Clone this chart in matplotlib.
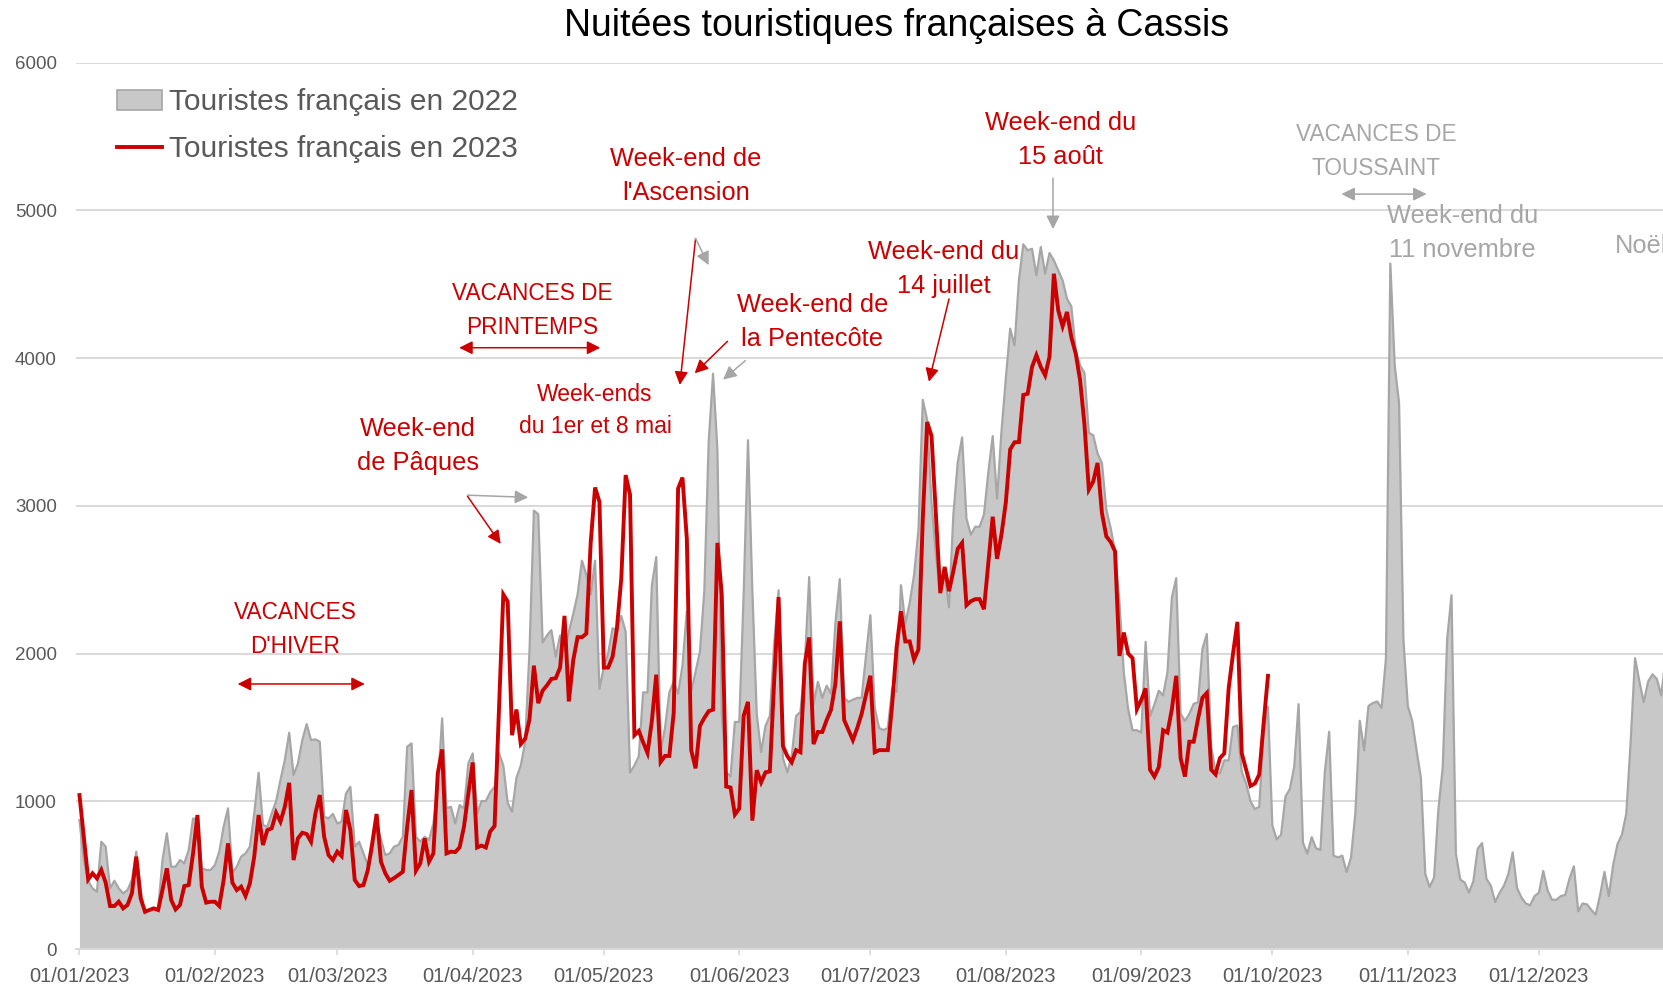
import numpy as np
import matplotlib
matplotlib.use("Agg")
import matplotlib.pyplot as plt
from matplotlib.patches import Patch
from matplotlib.lines import Line2D

plt.rcParams["font.family"] = ["Liberation Sans", "DejaVu Sans"]

# daily values, index 0 = 01/01/2023 (2022 aligned on the same weekday)
gray_2022 = [
    873, 602, 460, 410, 388, 726, 693, 410, 462, 410, 377, 399, 467, 659,
    399, 237, 264, 275, 264, 602, 783, 557, 557, 602, 580, 670, 884, 873,
    546, 535, 535, 568, 659, 828, 952, 512, 557, 625, 647, 693, 918, 1193,
    839, 828, 918, 1000, 1143, 1279, 1464, 1177, 1256, 1414, 1522, 1414, 1419, 1403,
    895, 884, 914, 850, 862, 1053, 1098, 693, 726, 647, 568, 647, 850, 740,
    636, 647, 693, 704, 760, 1369, 1392, 760, 726, 760, 738, 850, 1098, 1561,
    952, 963, 850, 974, 952, 1256, 1324, 916, 1001, 1001, 1061, 1097, 1327, 1242,
    989, 929, 1158, 1242, 1399, 2026, 2967, 2943, 2074, 2123, 2159, 1978, 2123, 2014,
    2147, 2267, 2400, 2629, 2533, 2400, 2629, 1761, 1905, 2002, 2171, 2159, 2255, 2147,
    1194, 1242, 1303, 1737, 1737, 2460, 2653, 1339, 1496, 1737, 1809, 1728, 1918, 2286,
    1741, 1877, 2014, 2422, 3431, 3894, 3377, 1591, 1196, 1169, 1537, 1537, 2395, 3444,
    2422, 1591, 1332, 1510, 1578, 2068, 2428, 1292, 1196, 1305, 1578, 1605, 1932, 2518,
    1659, 1809, 1700, 1782, 1728, 2204, 2504, 1700, 1673, 1687, 1700, 1700, 1986, 2259,
    1632, 1496, 1482, 1496, 1768, 1741, 2463, 2204, 2341, 2531, 2831, 3717, 3581, 3022,
    2668, 2422, 2531, 2313, 2941, 3295, 3463, 2913, 2804, 2858, 2858, 2941, 3227, 3472,
    3049, 3500, 3860, 4199, 4086, 4526, 4770, 4729, 4740, 4560, 4752, 4571, 4711, 4661,
    4594, 4526, 4402, 4350, 4050, 3950, 3900, 3494, 3478, 3353, 3290, 2975, 2849, 2692,
    2346, 1874, 1623, 1481, 1481, 1465, 2079, 1575, 1654, 1748, 1717, 1874, 2378, 2510,
    1591, 1544, 1591, 1660, 1670, 2032, 2132, 1371, 1198, 1189, 1277, 1277, 1503, 1513,
    1200, 1120, 1000, 947, 962, 1465, 1638, 836, 742, 774, 1032, 1082, 1232, 1657,
    720, 645, 757, 682, 670, 1195, 1470, 632, 620, 632, 520, 620, 920, 1545,
    1345, 1645, 1665, 1675, 1632, 1970, 4640, 3950, 3695, 2095, 1645, 1545, 1345, 1157,
    507, 420, 482, 945, 1232, 2095, 2395, 645, 470, 450, 382, 459, 679, 717,
    475, 428, 318, 380, 428, 506, 654, 412, 349, 308, 296, 358, 380, 528,
    396, 333, 333, 358, 365, 475, 560, 255, 308, 302, 264, 233, 365, 522,
    358, 569, 711, 774, 915, 1403, 1969, 1811, 1670, 1811, 1859, 1827, 1717, 1969,
    1850,
]

red_2023 = [
    1042, 757, 471, 512, 478, 535, 449, 291, 291, 320, 275, 298, 377, 625,
    343, 253, 264, 275, 264, 400, 546, 332, 268, 298, 426, 433, 647, 907,
    422, 314, 320, 320, 291, 467, 715, 449, 399, 422, 359, 444, 625, 907,
    704, 805, 817, 922, 862, 963, 1125, 602, 749, 787, 778, 726, 918, 1042,
    760, 636, 602, 659, 629, 941, 805, 467, 426, 433, 535, 715, 914, 591,
    512, 462, 480, 501, 523, 828, 1076, 530, 580, 749, 591, 647, 1189, 1351,
    647, 659, 656, 688, 828, 1053, 1263, 687, 700, 687, 796, 832, 1616, 2400,
    2352, 1447, 1621, 1387, 1423, 1556, 1918, 1664, 1749, 1785, 1828, 1833, 1905, 2255,
    1676, 1954, 2111, 2111, 2135, 2750, 3124, 3027, 1905, 1905, 1978, 2171, 2508, 3208,
    3075, 1447, 1476, 1399, 1327, 1544, 1857, 1266, 1307, 1307, 1600, 3117, 3191, 2777,
    1346, 1223, 1510, 1564, 1610, 1620, 2749, 2395, 1100, 1093, 910, 951, 1578, 1673,
    869, 1210, 1128, 1196, 1202, 1823, 2382, 1373, 1305, 1264, 1346, 1332, 1932, 2109,
    1387, 1469, 1469, 1550, 1619, 1796, 2218, 1550, 1482, 1414, 1496, 1591, 1720, 1850,
    1332, 1346, 1346, 1346, 1659, 2041, 2286, 2082, 2082, 1959, 2027, 2913, 3567, 3472,
    2941, 2409, 2586, 2422, 2559, 2709, 2749, 2327, 2354, 2368, 2368, 2300, 2613, 2926,
    2641, 2804, 3022, 3382, 3430, 3431, 3750, 3758, 3940, 4020, 3940, 3883, 4010, 4571,
    4323, 4215, 4312, 4140, 4030, 3850, 3550, 3110, 3164, 3290, 2950, 2793, 2755, 2692,
    1984, 2142, 2000, 1969, 1623, 1686, 1764, 1214, 1167, 1230, 1481, 1465, 1623, 1849,
    1292, 1167, 1403, 1403, 1560, 1701, 1733, 1214, 1182, 1292, 1324, 1764, 2000, 2214,
    1324, 1214, 1104, 1120, 1182, 1528, 1849,
]

month_days = [0, 31, 59, 90, 120, 151, 181, 212, 243, 273, 304, 334]
month_labels = ["01/01/2023", "01/02/2023", "01/03/2023", "01/04/2023",
                "01/05/2023", "01/06/2023", "01/07/2023", "01/08/2023",
                "01/09/2023", "01/10/2023", "01/11/2023", "01/12/2023"]
y_ticks = [0, 1000, 2000, 3000, 4000, 5000, 6000]

RED = "#CC0000"
FILL = "#C8C8C8"
EDGE = "#A6A6A6"
NOTE_GRAY = "#A6A6A6"
TXT = "#595959"
GRID = "#D9D9D9"

fig = plt.figure(figsize=(16.63, 9.88), dpi=100)
ax = fig.add_axes([0.04594, 0.03947, 0.95406, 0.89717])

x_gray = np.arange(len(gray_2022))
x_red = np.arange(len(red_2023))
ax.fill_between(x_gray, gray_2022, 0, color=FILL, lw=0, zorder=2)
ax.plot(x_gray, gray_2022, color=EDGE, lw=1.6, zorder=3)
ax.plot(x_red, red_2023, color=RED, lw=2.8, zorder=4, solid_joinstyle="miter")

ax.set_xlim(-0.7, 362.4)
ax.set_ylim(0, 6000)
ax.set_yticks(y_ticks)
ax.set_yticklabels([str(v) for v in y_ticks], fontsize=13.5, color=TXT)
ax.set_xticks(month_days)
ax.set_xticklabels(month_labels, fontsize=14.5, color=TXT)
ax.tick_params(axis="y", length=0, pad=14)
ax.tick_params(axis="x", length=4, width=1.2, color=GRID, pad=9.3)
ax.grid(axis="y", color=GRID, lw=1.4, zorder=0)
ax.set_axisbelow(True)
for side in ["top", "right", "left"]:
    ax.spines[side].set_visible(False)
ax.spines["bottom"].set_color(GRID)
ax.spines["bottom"].set_linewidth(1.4)
ax.spines["bottom"].set_zorder(5)

fig.text(0.539, 0.974, "Nuitées touristiques françaises à Cassis",
         ha="center", va="center", fontsize=27, color="black")

handles = [Patch(facecolor=FILL, edgecolor=EDGE, lw=1.2),
           Line2D([0], [0], color=RED, lw=2.8)]
fig.legend(handles, ["Touristes français en 2022", "Touristes français en 2023"],
           loc="upper left", bbox_to_anchor=(0.0633, 0.9226), frameon=False,
           fontsize=21.5, labelcolor=TXT, handlelength=1.5, handleheight=0.65,
           handletextpad=0.25, labelspacing=0.63, borderaxespad=0)


def note(lines, day, val, color, size=18.3, step=230):
    for i, line in enumerate(lines):
        ax.text(day, val - i * step, line, ha="center", va="center",
                fontsize=size, color=color, zorder=6)


def arrow(x0, y0, x1, y1, color, style="-|>"):
    ax.annotate("", xy=(x1, y1), xytext=(x0, y0), zorder=6,
                arrowprops=dict(arrowstyle=style, color=color, lw=1.1,
                                mutation_scale=20, shrinkA=0, shrinkB=0))


note(["VACANCES", "D'HIVER"], 49.3, 2275, RED, size=16.3)
arrow(36.2, 1794, 65.3, 1794, RED, "<|-|>")

note(["Week-end", "de Pâques"], 77.4, 3517, RED)
arrow(88.8, 3065, 96.4, 2742, RED)
arrow(88.8, 3072, 102.7, 3057, NOTE_GRAY)

note(["VACANCES DE", "PRINTEMPS"], 103.6, 4435, RED, size=16.3)
arrow(86.9, 4070, 119.2, 4070, RED, "<|-|>")

note(["Week-ends", "du 1er et 8 mai"], 118.0, 3754, RED, size=16.5, step=216)

note(["Week-end de", "l'Ascension"], 138.8, 5347, RED)
arrow(141.0, 4809, 137.4, 3818, RED)
arrow(141.0, 4809, 144.0, 4629, NOTE_GRAY)

note(["Week-end de", "la Pentecôte"], 167.7, 4357, RED)
arrow(148.3, 4113, 140.8, 3897, RED)
arrow(152.4, 3983, 147.3, 3854, NOTE_GRAY)

note(["Week-end du", "14 juillet"], 197.8, 4715, RED)
arrow(199.0, 4400, 194.4, 3840, RED)

note(["Week-end du", "15 août"], 224.5, 5591, RED)
arrow(222.8, 5218, 222.8, 4873, NOTE_GRAY)

note(["VACANCES DE", "TOUSSAINT"], 296.8, 5512, NOTE_GRAY, size=16.3)
arrow(288.8, 5110, 308.3, 5110, NOTE_GRAY, "<|-|>")

note(["Week-end du", "11 novembre"], 316.5, 4959, NOTE_GRAY)

# the reference is cropped on the right, "Noël" runs off the edge there too
ax.text(351.5, 4758, "Noël", ha="left", va="center", fontsize=18.3,
        color=NOTE_GRAY, clip_on=False)

fig.savefig("out.png", dpi=100)
